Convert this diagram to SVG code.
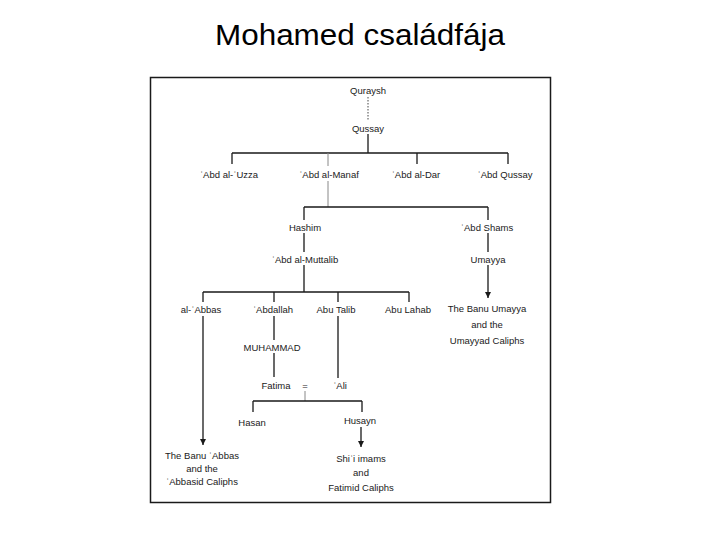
<svg xmlns="http://www.w3.org/2000/svg" width="720" height="540" viewBox="0 0 720 540">
<style>
.t{font-family:"Liberation Sans","DejaVu Sans",sans-serif;font-size:9.5px;fill:#1a1a1a;text-anchor:middle}
.title{font-family:"Liberation Sans",Arial,sans-serif;font-size:29px;fill:#000;text-anchor:middle}
.l{stroke:#1a1a1a;stroke-width:1.3;fill:none}
.g{stroke:#888;stroke-width:1;fill:none}
.d{stroke:#444;stroke-width:1;stroke-dasharray:1.5 1.5;fill:none}
</style>
<defs>
<marker id="arr" viewBox="0 0 8 8" refX="8" refY="4" markerWidth="6" markerHeight="6" markerUnits="userSpaceOnUse" orient="auto">
<path d="M0,0 L8,4 L0,8 z" fill="#1a1a1a"/>
</marker>
</defs>
<rect width="720" height="540" fill="#fff"/>
<text class="title" x="360" y="45" textLength="290" lengthAdjust="spacingAndGlyphs">Mohamed családfája</text>
<rect x="150.5" y="77.5" width="400" height="425" fill="none" stroke="#1a1a1a" stroke-width="1.5"/>
<g id="connectors">
<path class="d" d="M368,97 V121"/>
<path class="l" d="M368,134 V153 M232,153 H508 M232,153 V164 M417,153 V164 M508,153 V164"/>
<path class="g" d="M328,153 V166 M328,181 V207"/>
<path class="l" d="M304,207 H488 M304,207 V220 M304,233 V252 M304,265 V292 M488,207 V220 M488,233 V252"/>
<path class="l" d="M488,265 V298" marker-end="url(#arr)"/>
<path class="l" d="M203,292 H409 M203,292 V302 M274,292 V302 M338,292 V302 M409,292 V302"/>
<path class="l" d="M274,316 V340 M274,353 V377 M338,316 V378"/>
<path class="l" d="M203,316 V445" marker-end="url(#arr)"/>
<path class="g" d="M305,391 V401"/>
<path class="l" d="M253,401 H362 M253,401 V412 M362,401 V412"/>
<path class="l" d="M361,427 V447" marker-end="url(#arr)"/>
</g>
<g id="quraysh"><text class="t" x="368" y="94">Quraysh</text></g>
<g id="qussay"><text class="t" x="368" y="131.5">Qussay</text></g>
<g id="abd-al-uzza"><text class="t" x="229" y="177.5">ʿAbd al-ʿUzza</text></g>
<g id="abd-al-manaf"><text class="t" x="329" y="177.5">ʿAbd al-Manaf</text></g>
<g id="abd-al-dar"><text class="t" x="416" y="177.5">ʿAbd al-Dar</text></g>
<g id="abd-qussay"><text class="t" x="505" y="177.5">ʿAbd Qussay</text></g>
<g id="hashim"><text class="t" x="305" y="230.5">Hashim</text></g>
<g id="abd-shams"><text class="t" x="487" y="230.5">ʿAbd Shams</text></g>
<g id="abd-al-muttalib"><text class="t" x="305" y="262.5">ʿAbd al-Muttalib</text></g>
<g id="umayya"><text class="t" x="488" y="262.5">Umayya</text></g>
<g id="al-abbas"><text class="t" x="201" y="312.5">al-ʿAbbas</text></g>
<g id="abdallah"><text class="t" x="273" y="312.5">ʿAbdallah</text></g>
<g id="abu-talib"><text class="t" x="336" y="312.5">Abu Talib</text></g>
<g id="abu-lahab"><text class="t" x="408" y="312.5">Abu Lahab</text></g>
<g id="banu-umayya"><text class="t" x="487" y="311.5">The Banu Umayya</text><text class="t" x="487" y="327.5">and the</text><text class="t" x="487" y="343.5">Umayyad Caliphs</text></g>
<g id="muhammad"><text class="t" x="272" y="350.5">MUHAMMAD</text></g>
<g id="fatima"><text class="t" x="276" y="388.5">Fatima</text></g>
<g id="eq"><text class="t" x="305" y="388.5">=</text></g>
<g id="ali"><text class="t" x="340" y="388.5">ʿAli</text></g>
<g id="hasan"><text class="t" x="252" y="425.5">Hasan</text></g>
<g id="husayn"><text class="t" x="360" y="423.5">Husayn</text></g>
<g id="banu-abbas"><text class="t" x="202" y="458.5">The Banu ʿAbbas</text><text class="t" x="202" y="471.5">and the</text><text class="t" x="202" y="484.5">ʿAbbasid Caliphs</text></g>
<g id="shii"><text class="t" x="361" y="461.5">Shiʿi imams</text><text class="t" x="361" y="475.5">and</text><text class="t" x="361" y="490.5">Fatimid Caliphs</text></g>
</svg>
